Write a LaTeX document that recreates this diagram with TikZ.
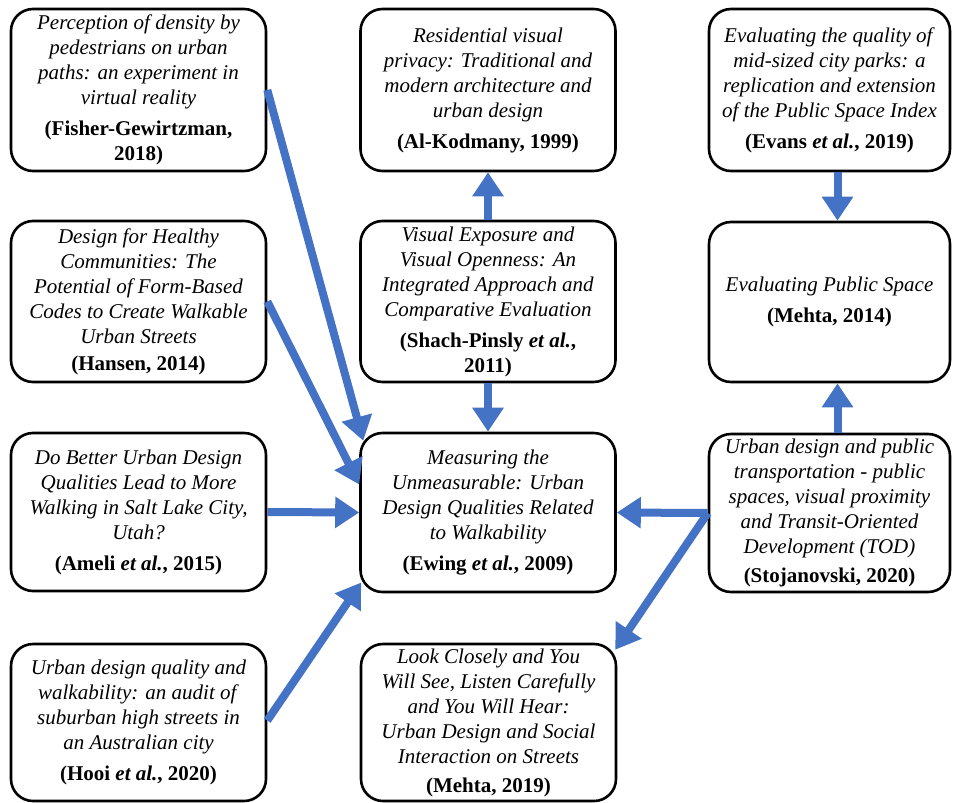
\documentclass[tikz,border=0pt]{standalone}
\usepackage{fontspec}
\setmainfont{Liberation Serif}
\usetikzlibrary{arrows.meta,calc}
\definecolor{arrowblue}{HTML}{4472C4}
\tikzset{
  paper/.style={draw=black, line width=2.6pt, rounded corners=22pt, inner sep=0pt,
    align=center, font=\fontsize{21}{25}\selectfont},
  colL/.style={paper, minimum width=255pt},
  colR/.style={paper, minimum width=241pt},
  link/.style={draw=arrowblue, line width=8pt, -{Triangle[length=24pt,width=30pt]}},
}
\newcommand{\refcite}[1]{\\[6pt]\textbf{#1}}
\begin{document}
\begin{tikzpicture}[x=1pt,y=-1pt]
\useasboundingbox (0,0) rectangle (953,803);

% left column
\node[colL, minimum height=162pt] (fisher) at (138.5,90)
  {\textit{Perception of density by}\\\textit{pedestrians on urban}\\\textit{paths: an experiment in}\\\textit{virtual reality}\refcite{(Fisher-Gewirtzman,}\\\textbf{2018)}};
\node[colL, minimum height=161pt] (hansen) at (138.5,301.5)
  {\textit{Design for Healthy}\\\textit{Communities: The}\\\textit{Potential of Form-Based}\\\textit{Codes to Create Walkable}\\\textit{Urban Streets}\\[2pt]\textbf{(Hansen, 2014)}};
\node[colL, minimum height=158pt] (ameli) at (138.5,512)
  {\textit{Do Better Urban Design}\\\textit{Qualities Lead to More}\\\textit{Walking in Salt Lake City,}\\\textit{Utah?}\refcite{(Ameli \textit{et al.}, 2015)}};
\node[colL, minimum height=157pt] (hooi) at (138.5,722.5)
  {\textit{Urban design quality and}\\\textit{walkability: an audit of}\\\textit{suburban high streets in}\\\textit{an Australian city}\refcite{(Hooi \textit{et al.}, 2020)}};

% middle column
\node[colL, minimum height=162pt] (alk) at (488,90)
  {\textit{Residential visual}\\\textit{privacy: Traditional and}\\\textit{modern architecture and}\\\textit{urban design}\refcite{(Al-Kodmany, 1999)}};
\node[colL, minimum height=161pt] (shach) at (488,301.5)
  {\textit{Visual Exposure and}\\\textit{Visual Openness: An}\\\textit{Integrated Approach and}\\\textit{Comparative Evaluation}\refcite{(Shach-Pinsly \textit{et al.},}\\\textbf{2011)}};
\node[colL, minimum height=159pt] (ewing) at (488,512.5)
  {\textit{Measuring the}\\\textit{Unmeasurable: Urban}\\\textit{Design Qualities Related}\\\textit{to Walkability}\refcite{(Ewing \textit{et al.}, 2009)}};
\node[colL, minimum height=157pt] (mehtaB) at (488.5,722.5)
  {\textit{Look Closely and You}\\\textit{Will See, Listen Carefully}\\\textit{and You Will Hear:}\\\textit{Urban Design and Social}\\\textit{Interaction on Streets}\\[4pt]\textbf{(Mehta, 2019)}};

% right column
\node[colR, minimum height=162pt] (evans) at (829.5,90)
  {\textit{Evaluating the quality of}\\\textit{mid-sized city parks: a}\\\textit{replication and extension}\\\textit{of the Public Space Index}\refcite{(Evans \textit{et al.}, 2019)}};
\node[colR, minimum height=160pt] (mehtaA) at (829.5,302)
  {\textit{Evaluating Public Space}\refcite{(Mehta, 2014)}};
\node[colR, minimum height=158pt] (stoj) at (829.5,513)
  {\textit{Urban design and public}\\\textit{transportation - public}\\\textit{spaces, visual proximity}\\\textit{and Transit-Oriented}\\\textit{Development (TOD)}\\[4pt]\textbf{(Stojanovski, 2020)}};

% connectors
\draw[link] (fisher.east) -- ($(ewing.north west)+(4,9)$);
\draw[link] (hansen.east) -- ($(ewing.west)+(0,-28)$);
\draw[link] (ameli.east) -- (ewing.west);
\draw[link] ($(hooi.east)+(0,-2)$) -- ($(ewing.west)+(2,70)$);
\draw[link] (shach.north) -- (alk.south);
\draw[link] (shach.south) -- (ewing.north);
\draw[link] ($(evans.south)+(8,0)$) -- ($(mehtaA.north)+(8,0)$);
\draw[link] ($(stoj.north)+(8,0)$) -- ($(mehtaA.south)+(8,0)$);
\draw[link] (stoj.west) -- (ewing.east);
\draw[link] (stoj.west) -- ($(mehtaB.north east)+(-2,7)$);
\end{tikzpicture}
\end{document}
